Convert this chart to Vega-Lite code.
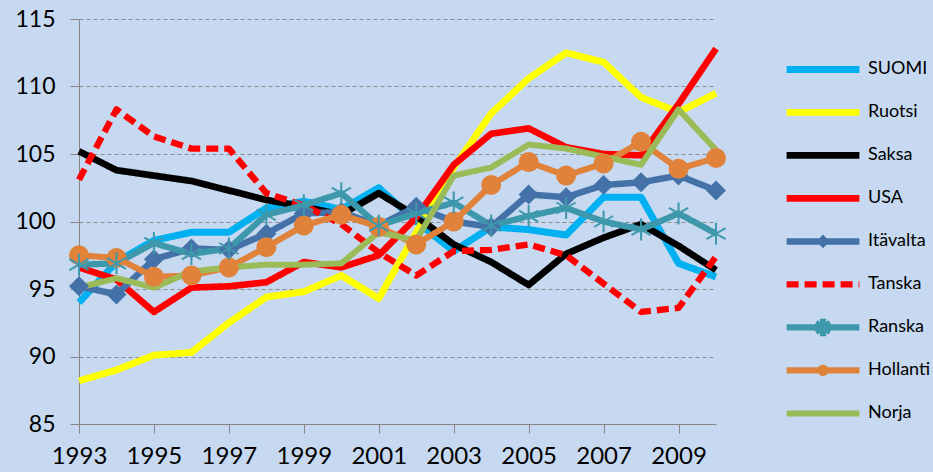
{
  "$schema": "https://vega.github.io/schema/vega-lite/v6.json",
  "width": 637,
  "height": 405,
  "autosize": {"type": "none"},
  "padding": {"left": 79, "top": 19, "right": 217, "bottom": 48},
  "background": "#c6d9f0",
  "data": {
    "values": [
      {"country": "SUOMI", "year": 1993, "value": 94.0},
      {"country": "SUOMI", "year": 1994, "value": 97.0},
      {"country": "SUOMI", "year": 1995, "value": 98.6},
      {"country": "SUOMI", "year": 1996, "value": 99.2},
      {"country": "SUOMI", "year": 1997, "value": 99.2},
      {"country": "SUOMI", "year": 1998, "value": 101.0},
      {"country": "SUOMI", "year": 1999, "value": 101.5},
      {"country": "SUOMI", "year": 2000, "value": 100.9},
      {"country": "SUOMI", "year": 2001, "value": 102.5},
      {"country": "SUOMI", "year": 2002, "value": 100.0},
      {"country": "SUOMI", "year": 2003, "value": 97.8},
      {"country": "SUOMI", "year": 2004, "value": 99.6},
      {"country": "SUOMI", "year": 2005, "value": 99.4},
      {"country": "SUOMI", "year": 2006, "value": 99.0},
      {"country": "SUOMI", "year": 2007, "value": 101.8},
      {"country": "SUOMI", "year": 2008, "value": 101.8},
      {"country": "SUOMI", "year": 2009, "value": 96.9},
      {"country": "SUOMI", "year": 2010, "value": 95.9},
      {"country": "Ruotsi", "year": 1993, "value": 88.2},
      {"country": "Ruotsi", "year": 1994, "value": 89.0},
      {"country": "Ruotsi", "year": 1995, "value": 90.1},
      {"country": "Ruotsi", "year": 1996, "value": 90.3},
      {"country": "Ruotsi", "year": 1997, "value": 92.5},
      {"country": "Ruotsi", "year": 1998, "value": 94.4},
      {"country": "Ruotsi", "year": 1999, "value": 94.8},
      {"country": "Ruotsi", "year": 2000, "value": 96.0},
      {"country": "Ruotsi", "year": 2001, "value": 94.3},
      {"country": "Ruotsi", "year": 2002, "value": 99.2},
      {"country": "Ruotsi", "year": 2003, "value": 104.0},
      {"country": "Ruotsi", "year": 2004, "value": 108.0},
      {"country": "Ruotsi", "year": 2005, "value": 110.6},
      {"country": "Ruotsi", "year": 2006, "value": 112.5},
      {"country": "Ruotsi", "year": 2007, "value": 111.8},
      {"country": "Ruotsi", "year": 2008, "value": 109.2},
      {"country": "Ruotsi", "year": 2009, "value": 108.1},
      {"country": "Ruotsi", "year": 2010, "value": 109.5},
      {"country": "Saksa", "year": 1993, "value": 105.2},
      {"country": "Saksa", "year": 1994, "value": 103.8},
      {"country": "Saksa", "year": 1995, "value": 103.4},
      {"country": "Saksa", "year": 1996, "value": 103.0},
      {"country": "Saksa", "year": 1997, "value": 102.3},
      {"country": "Saksa", "year": 1998, "value": 101.6},
      {"country": "Saksa", "year": 1999, "value": 101.1},
      {"country": "Saksa", "year": 2000, "value": 100.5},
      {"country": "Saksa", "year": 2001, "value": 102.1},
      {"country": "Saksa", "year": 2002, "value": 100.4},
      {"country": "Saksa", "year": 2003, "value": 98.3},
      {"country": "Saksa", "year": 2004, "value": 97.0},
      {"country": "Saksa", "year": 2005, "value": 95.3},
      {"country": "Saksa", "year": 2006, "value": 97.6},
      {"country": "Saksa", "year": 2007, "value": 98.8},
      {"country": "Saksa", "year": 2008, "value": 99.8},
      {"country": "Saksa", "year": 2009, "value": 98.2},
      {"country": "Saksa", "year": 2010, "value": 96.4},
      {"country": "USA", "year": 1993, "value": 96.6},
      {"country": "USA", "year": 1994, "value": 95.7},
      {"country": "USA", "year": 1995, "value": 93.3},
      {"country": "USA", "year": 1996, "value": 95.1},
      {"country": "USA", "year": 1997, "value": 95.2},
      {"country": "USA", "year": 1998, "value": 95.5},
      {"country": "USA", "year": 1999, "value": 97.0},
      {"country": "USA", "year": 2000, "value": 96.6},
      {"country": "USA", "year": 2001, "value": 97.5},
      {"country": "USA", "year": 2002, "value": 100.3},
      {"country": "USA", "year": 2003, "value": 104.2},
      {"country": "USA", "year": 2004, "value": 106.5},
      {"country": "USA", "year": 2005, "value": 106.9},
      {"country": "USA", "year": 2006, "value": 105.5},
      {"country": "USA", "year": 2007, "value": 105.0},
      {"country": "USA", "year": 2008, "value": 104.9},
      {"country": "USA", "year": 2009, "value": 108.7},
      {"country": "USA", "year": 2010, "value": 112.8},
      {"country": "Itävalta", "year": 1993, "value": 95.2},
      {"country": "Itävalta", "year": 1994, "value": 94.6},
      {"country": "Itävalta", "year": 1995, "value": 97.2},
      {"country": "Itävalta", "year": 1996, "value": 98.0},
      {"country": "Itävalta", "year": 1997, "value": 97.9},
      {"country": "Itävalta", "year": 1998, "value": 99.1},
      {"country": "Itävalta", "year": 1999, "value": 100.6},
      {"country": "Itävalta", "year": 2000, "value": 100.7},
      {"country": "Itävalta", "year": 2001, "value": 99.7},
      {"country": "Itävalta", "year": 2002, "value": 101.1},
      {"country": "Itävalta", "year": 2003, "value": 100.0},
      {"country": "Itävalta", "year": 2004, "value": 99.6},
      {"country": "Itävalta", "year": 2005, "value": 102.0},
      {"country": "Itävalta", "year": 2006, "value": 101.8},
      {"country": "Itävalta", "year": 2007, "value": 102.7},
      {"country": "Itävalta", "year": 2008, "value": 102.9},
      {"country": "Itävalta", "year": 2009, "value": 103.4},
      {"country": "Itävalta", "year": 2010, "value": 102.3},
      {"country": "Tanska", "year": 1993, "value": 103.1},
      {"country": "Tanska", "year": 1994, "value": 108.3},
      {"country": "Tanska", "year": 1995, "value": 106.3},
      {"country": "Tanska", "year": 1996, "value": 105.4},
      {"country": "Tanska", "year": 1997, "value": 105.4},
      {"country": "Tanska", "year": 1998, "value": 102.1},
      {"country": "Tanska", "year": 1999, "value": 101.2},
      {"country": "Tanska", "year": 2000, "value": 99.8},
      {"country": "Tanska", "year": 2001, "value": 97.7},
      {"country": "Tanska", "year": 2002, "value": 96.0},
      {"country": "Tanska", "year": 2003, "value": 97.8},
      {"country": "Tanska", "year": 2004, "value": 97.9},
      {"country": "Tanska", "year": 2005, "value": 98.3},
      {"country": "Tanska", "year": 2006, "value": 97.5},
      {"country": "Tanska", "year": 2007, "value": 95.4},
      {"country": "Tanska", "year": 2008, "value": 93.3},
      {"country": "Tanska", "year": 2009, "value": 93.6},
      {"country": "Tanska", "year": 2010, "value": 97.4},
      {"country": "Ranska", "year": 1993, "value": 96.8},
      {"country": "Ranska", "year": 1994, "value": 96.9},
      {"country": "Ranska", "year": 1995, "value": 98.4},
      {"country": "Ranska", "year": 1996, "value": 97.6},
      {"country": "Ranska", "year": 1997, "value": 98.0},
      {"country": "Ranska", "year": 1998, "value": 100.5},
      {"country": "Ranska", "year": 1999, "value": 101.2},
      {"country": "Ranska", "year": 2000, "value": 102.1},
      {"country": "Ranska", "year": 2001, "value": 99.7},
      {"country": "Ranska", "year": 2002, "value": 100.6},
      {"country": "Ranska", "year": 2003, "value": 101.4},
      {"country": "Ranska", "year": 2004, "value": 99.7},
      {"country": "Ranska", "year": 2005, "value": 100.4},
      {"country": "Ranska", "year": 2006, "value": 101.0},
      {"country": "Ranska", "year": 2007, "value": 100.0},
      {"country": "Ranska", "year": 2008, "value": 99.4},
      {"country": "Ranska", "year": 2009, "value": 100.6},
      {"country": "Ranska", "year": 2010, "value": 99.1},
      {"country": "Hollanti", "year": 1993, "value": 97.5},
      {"country": "Hollanti", "year": 1994, "value": 97.3},
      {"country": "Hollanti", "year": 1995, "value": 95.9},
      {"country": "Hollanti", "year": 1996, "value": 96.0},
      {"country": "Hollanti", "year": 1997, "value": 96.6},
      {"country": "Hollanti", "year": 1998, "value": 98.1},
      {"country": "Hollanti", "year": 1999, "value": 99.7},
      {"country": "Hollanti", "year": 2000, "value": 100.5},
      {"country": "Hollanti", "year": 2001, "value": 99.6},
      {"country": "Hollanti", "year": 2002, "value": 98.3},
      {"country": "Hollanti", "year": 2003, "value": 100.0},
      {"country": "Hollanti", "year": 2004, "value": 102.7},
      {"country": "Hollanti", "year": 2005, "value": 104.4},
      {"country": "Hollanti", "year": 2006, "value": 103.4},
      {"country": "Hollanti", "year": 2007, "value": 104.3},
      {"country": "Hollanti", "year": 2008, "value": 105.9},
      {"country": "Hollanti", "year": 2009, "value": 103.9},
      {"country": "Hollanti", "year": 2010, "value": 104.7},
      {"country": "Norja", "year": 1993, "value": 95.1},
      {"country": "Norja", "year": 1994, "value": 95.8},
      {"country": "Norja", "year": 1995, "value": 95.1},
      {"country": "Norja", "year": 1996, "value": 96.3},
      {"country": "Norja", "year": 1997, "value": 96.6},
      {"country": "Norja", "year": 1998, "value": 96.8},
      {"country": "Norja", "year": 1999, "value": 96.8},
      {"country": "Norja", "year": 2000, "value": 96.9},
      {"country": "Norja", "year": 2001, "value": 99.2},
      {"country": "Norja", "year": 2002, "value": 98.6},
      {"country": "Norja", "year": 2003, "value": 103.4},
      {"country": "Norja", "year": 2004, "value": 104.0},
      {"country": "Norja", "year": 2005, "value": 105.7},
      {"country": "Norja", "year": 2006, "value": 105.4},
      {"country": "Norja", "year": 2007, "value": 104.8},
      {"country": "Norja", "year": 2008, "value": 104.2},
      {"country": "Norja", "year": 2009, "value": 108.3},
      {"country": "Norja", "year": 2010, "value": 105.3}
    ]
  },
  "encoding": {
    "x": {
      "field": "year", "type": "quantitative",
      "scale": {"domain": [1993, 2010], "nice": false, "zero": false},
      "axis": {"values": [1993, 1995, 1997, 1999, 2001, 2003, 2005, 2007, 2009], "format": "d", "grid": false, "tickSize": 9, "labelFontSize": 24, "labelPadding": 11, "labelFlush": false, "labelOverlap": false}
    },
    "y": {
      "field": "value", "type": "quantitative",
      "scale": {"domain": [85, 115], "nice": false, "zero": false},
      "axis": {"values": [85, 90, 95, 100, 105, 110, 115], "grid": true, "gridColor": "#8c8c8c", "gridDash": [4, 3], "gridWidth": 1, "tickSize": 9, "labelFontSize": 23, "labelPadding": 15, "labelFlush": false}
    },
    "color": {
      "field": "country", "type": "nominal",
      "scale": {
        "domain": ["SUOMI", "Ruotsi", "Saksa", "USA", "Itävalta", "Tanska", "Ranska", "Hollanti", "Norja"],
        "range": ["#00b0f0", "#ffff00", "#000000", "#ff0000", "#4472a8", "#ff0000", "#3e98ac", "#e0823a", "#9bbb59"]
      },
      "legend": {
        "symbolType": "stroke",
        "encode": {
          "symbols": {
            "update": {
              "strokeWidth": {"signal": "indexof(['SUOMI','Ruotsi','Saksa','USA'], datum.value) >= 0 ? 7 : (datum.value === 'Tanska' ? 5 : (datum.value === 'Ranska' ? 3 : 4))"},
              "shape": {"signal": "datum.value === 'Itävalta' ? 'M-1,0H1M0,-0.06L0.06,0L0,0.06L-0.06,0Z' : (datum.value === 'Hollanti' ? 'M-1,0H1M-0.07,0A0.07,0.07,0,1,1,0.07,0A0.07,0.07,0,1,1,-0.07,0Z' : (datum.value === 'Ranska' ? 'M-1,0H1M0,-0.24L0,0.24M-0.2,-0.12L0.2,0.12M-0.2,0.12L0.2,-0.12' : 'stroke'))"},
              "fill": {"signal": "datum.value === 'Ranska' ? 'transparent' : scale('color', datum.value)"}
            }
          }
        }
      }
    }
  },
  "layer": [
    {
      "mark": {"type": "line", "strokeJoin": "round", "strokeCap": "butt"},
      "encoding": {
        "strokeWidth": {
          "field": "country", "type": "nominal",
          "scale": {
            "domain": ["SUOMI", "Ruotsi", "Saksa", "USA", "Itävalta", "Tanska", "Ranska", "Hollanti", "Norja"],
            "range": [7, 6, 6, 6, 4, 4, 3.5, 4, 3.5]
          }
        },
        "strokeDash": {
          "field": "country", "type": "nominal",
          "scale": {
            "domain": ["SUOMI", "Ruotsi", "Saksa", "USA", "Itävalta", "Tanska", "Ranska", "Hollanti", "Norja"],
            "range": [[1, 0], [1, 0], [1, 0], [1, 0], [1, 0], [12, 6], [1, 0], [1, 0], [1, 0]]
          }
        }
      }
    },
    {
      "transform": [{"filter": {"field": "country", "oneOf": ["Itävalta", "Hollanti"]}}],
      "mark": {"type": "point", "filled": true, "opacity": 1, "size": 400},
      "encoding": {
        "shape": {
          "field": "country", "type": "nominal", "legend": null,
          "scale": {"domain": ["Itävalta", "Hollanti"], "range": ["diamond", "circle"]}
        }
      }
    },
    {
      "transform": [{"filter": {"field": "country", "equal": "Ranska"}}],
      "mark": {"type": "point", "filled": false, "opacity": 1, "strokeWidth": 2, "shape": "M0,-1L0,1M-0.87,-0.5L0.87,0.5M-0.87,0.5L0.87,-0.5", "size": 484}
    }
  ],
  "config": {
    "view": {"stroke": null},
    "font": "Lato",
    "axis": {"labelFont": "Lato", "labelColor": "#000000", "domainColor": "#868686", "tickColor": "#868686", "title": null},
    "legend": {
      "orient": "none", "legendX": 704, "legendY": 29,
      "title": null,
      "symbolType": "stroke", "symbolSize": 5300,
      "labelFont": "Lato", "labelFontSize": 18, "labelColor": "#000000",
      "labelOffset": 5, "rowPadding": 0, "clipHeight": 42.8
    }
  }
}
